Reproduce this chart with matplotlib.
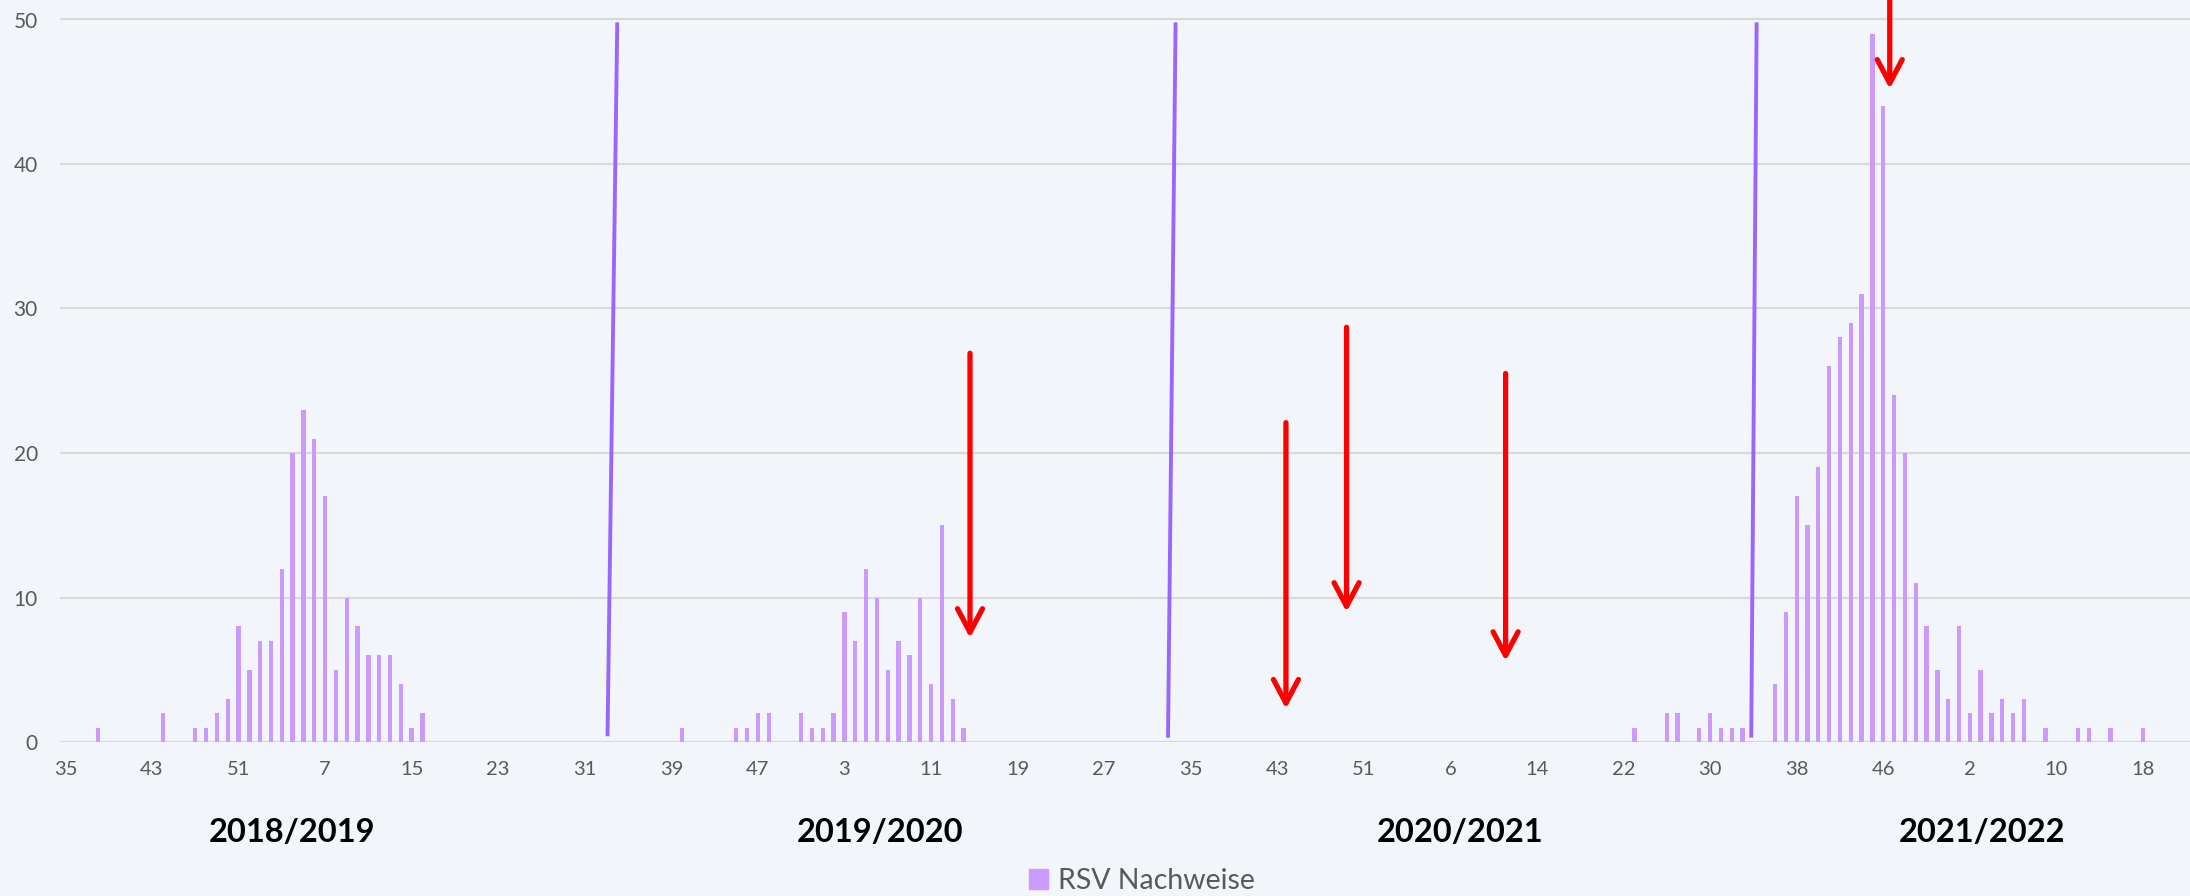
import numpy as np
import matplotlib
matplotlib.use("Agg")
import matplotlib.pyplot as plt
import matplotlib.transforms as mtransforms
from matplotlib.patches import Patch

plt.rcParams["font.family"] = ["Lato", "DejaVu Sans"]

# RSV Nachweise per calendar week, one list per calendar year
counts_2018 = [0, 0, 0, 1, 0, 0, 0, 0, 0, 2, 0, 0, 1, 1, 2, 3, 8, 5]  # wk 35-52
counts_2019 = ([7, 7, 12, 20, 23, 21, 17, 5, 10, 8, 6, 6, 6, 4, 1, 2]
               + [0] * 23 + [1, 0, 0, 0, 0, 1, 1, 2, 2, 0, 0, 2, 1])
counts_2020 = [1, 2, 9, 7, 12, 10, 5, 7, 6, 10, 4, 15, 3, 1] + [0] * 39  # 53 weeks
counts_2021 = ([0] * 22 + [1, 0, 0, 2, 2, 0, 1, 2, 1, 1, 1, 0, 0]
               + [4, 9, 17, 15, 19, 26, 28, 29, 31, 49, 44, 24, 20, 11, 8, 5, 3])
counts_2022 = [8, 2, 5, 2, 3, 2, 3, 0, 1, 0, 0, 1, 1, 0, 1, 0, 0, 1, 0, 0, 0, 0]

week_numbers = (list(range(35, 53)) + list(range(1, 53)) + list(range(1, 54))
                + list(range(1, 53)) + list(range(1, 23)))
counts = counts_2018 + counts_2019 + counts_2020 + counts_2021 + counts_2022

season_labels = ["2018/2019", "2019/2020", "2020/2021", "2021/2022"]
season_label_x = [20.9, 75.3, 128.9, 177.1]

# hand-drawn season separators (x0, y0, x1, y1) in data units
separators = [(50.1, 0.4, 51.0, 49.8), (101.9, 0.3, 102.6, 49.8), (155.8, 0.3, 156.3, 49.8)]
# red arrows (x, y_start, y_tip)
arrows = [(83.6, 26.9, 7.2), (112.8, 22.1, 2.3), (118.4, 28.7, 9.0),
          (133.1, 25.5, 5.6), (168.6, 53.0, 45.2)]

bg = "#F2F6FA"
bar_color = "#CC99FF"
sep_color = "#9966FF"
grey = "#595959"

fig = plt.figure(figsize=(21.9, 8.96), dpi=100, facecolor=bg)
ax = fig.add_axes([60 / 2190, 154 / 896, 1 - 60 / 2190, 742 / 896])
ax.set_facecolor(bg)

x = np.arange(len(counts))
ax.bar(x, counts, width=0.4, color=bar_color, zorder=3, label="RSV Nachweise")

ax.set_xlim(-0.5, len(counts) - 0.65)
ax.set_ylim(0, 742 / 14.45)
ax.set_yticks(range(0, 51, 10))
ax.set_xticks(x[::8])
ax.set_xticklabels([str(w) for w in week_numbers[::8]])
ax.tick_params(axis="both", length=0, colors=grey, labelsize=14.5)
ax.tick_params(axis="x", pad=14)
ax.tick_params(axis="y", pad=16)
for lab in ax.get_yticklabels():
    lab.set_fontsize(15)
for s in ax.spines.values():
    s.set_visible(False)
ax.grid(axis="y", color="#D9D9D9", linewidth=1.6, zorder=0)
ax.set_axisbelow(True)

for x0, y0, x1, y1 in separators:
    ax.plot([x0, x1], [y0, y1], color=sep_color, linewidth=2.8, zorder=4,
            solid_capstyle="butt")

for ax_x, y_start, y_tip in arrows:
    ax.annotate("", xy=(ax_x, y_tip), xytext=(ax_x, y_start),
                arrowprops=dict(arrowstyle="->,head_length=1.7,head_width=0.9",
                                color="#FF0000", lw=3.8, shrinkA=0, shrinkB=0,
                                mutation_scale=10),
                annotation_clip=False, zorder=5)

trans = mtransforms.blended_transform_factory(ax.transData, fig.transFigure)
for lab, lx in zip(season_labels, season_label_x):
    ax.text(lx, 64 / 896, lab, transform=trans, ha="center", va="center",
            fontsize=23.5, fontweight="bold", color="black")

fig.legend(handles=[Patch(color=bar_color, label="RSV Nachweise")],
           loc="center", bbox_to_anchor=(1142 / 2190, 15 / 896), frameon=False,
           fontsize=20.5, labelcolor=grey, handlelength=0.65, handleheight=0.65,
           handletextpad=0.35)

fig.savefig("out.png", dpi=100, facecolor=bg)
